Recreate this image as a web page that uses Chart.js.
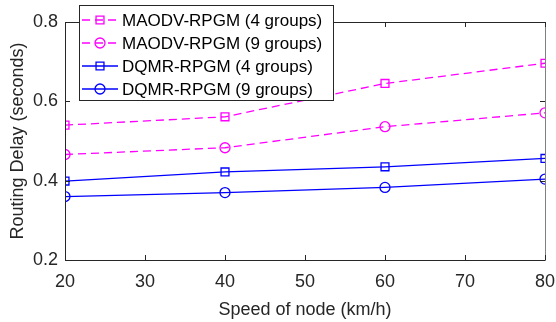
<!DOCTYPE html>
<html>
<head>
<meta charset="utf-8">
<script src="https://cdn.jsdelivr.net/npm/chart.js@4"></script>
<style>
  html, body { margin: 0; padding: 0; background: #fff; }
  #wrap { width: 556px; height: 322px; }
</style>
</head>
<body>
<div id="wrap"><canvas id="graf" width="556" height="322"></canvas></div>
<script>
const speeds = [20, 40, 60, 80];
const maodv4 = [0.540, 0.561, 0.645, 0.696];
const maodv9 = [0.466, 0.483, 0.536, 0.571];
const dqmr4 = [0.399, 0.422, 0.435, 0.456];
const dqmr9 = [0.360, 0.370, 0.383, 0.404];
const yTicks = [0.2, 0.4, 0.6, 0.8];
const xTicks = [20, 30, 40, 50, 60, 70, 80];

const FONT = "'Liberation Sans', Arial, sans-serif";
const AXIS = '#262626';

function tocke(vals) {
    return speeds.map((s, i) => ({ x: s, y: vals[i] }));
}

function serija(label, vals, color, dashed, shape) {
    return {
        label: label,
        data: tocke(vals),
        borderColor: color,
        backgroundColor: 'rgba(0,0,0,0)',
        borderWidth: 1.3,
        borderDash: dashed ? [8, 5] : [],
        pointStyle: shape,
        pointRadius: shape === 'rect' ? 5.6 : 5,
        pointBorderWidth: 1.3,
        pointBorderColor: color,
        pointBackgroundColor: 'rgba(0,0,0,0)',
        tension: 0,
        fill: false
    };
}

// box, inward ticks and legend in the upper left
const okvir = {
    id: 'okvir',
    afterDraw(chart) {
        const ctx = chart.ctx;
        const a = chart.chartArea;
        const xs = chart.scales.x;
        const ys = chart.scales.y;
        ctx.save();
        ctx.lineWidth = 1;
        ctx.strokeStyle = AXIS;
        ctx.beginPath();
        ctx.moveTo(a.left + 0.5, a.top);
        ctx.lineTo(a.left + 0.5, a.bottom + 0.5);
        ctx.lineTo(a.right, a.bottom + 0.5);
        ctx.moveTo(a.left, a.top + 0.5);
        ctx.lineTo(a.right, a.top + 0.5);
        ctx.stroke();
        ctx.strokeStyle = '#808080';
        ctx.beginPath();
        ctx.moveTo(a.right + 0.5, a.top);
        ctx.lineTo(a.right + 0.5, a.bottom + 1);
        ctx.stroke();

        ctx.strokeStyle = AXIS;
        ctx.beginPath();
        xTicks.forEach(v => {
            const px = Math.round(xs.getPixelForValue(v)) + 0.5;
            ctx.moveTo(px, a.bottom);
            ctx.lineTo(px, a.bottom - 5);
            ctx.moveTo(px, a.top);
            ctx.lineTo(px, a.top + 5);
        });
        yTicks.forEach(v => {
            const py = Math.round(ys.getPixelForValue(v)) + 0.5;
            ctx.moveTo(a.left, py);
            ctx.lineTo(a.left + 5, py);
            ctx.moveTo(a.right, py);
            ctx.lineTo(a.right - 5, py);
        });
        ctx.stroke();

        // legend
        const lx = 79, ly = 5, lw = 254, lh = 95;
        ctx.fillStyle = '#fff';
        ctx.fillRect(lx, ly, lw, lh);
        ctx.strokeStyle = AXIS;
        ctx.strokeRect(lx + 0.5, ly + 0.5, lw, lh);
        ctx.font = '17px ' + FONT;
        ctx.textBaseline = 'middle';
        ctx.textAlign = 'left';
        chart.data.datasets.forEach((ds, i) => {
            const yy = 20 + i * 23;
            ctx.strokeStyle = ds.borderColor;
            ctx.lineWidth = ds.borderWidth;
            ctx.setLineDash(ds.borderDash);
            ctx.beginPath();
            ctx.moveTo(82, yy);
            ctx.lineTo(118, yy);
            ctx.stroke();
            ctx.setLineDash([]);
            ctx.fillStyle = 'rgba(0,0,0,0)';
            Chart.helpers.drawPoint(ctx, {
                pointStyle: ds.pointStyle,
                radius: ds.pointRadius,
                borderWidth: ds.pointBorderWidth,
                rotation: 0
            }, 100, yy);
            ctx.fillStyle = '#000';
            ctx.fillText(ds.label, 122, yy + 1);
        });
        ctx.restore();
    }
};

new Chart(document.getElementById('graf').getContext('2d'), {
    type: 'line',
    data: {
        datasets: [
            serija('MAODV-RPGM (4 groups)', maodv4, '#ff00ff', true, 'rect'),
            serija('MAODV-RPGM (9 groups)', maodv9, '#ff00ff', true, 'circle'),
            serija('DQMR-RPGM (4 groups)', dqmr4, '#0000ff', false, 'rect'),
            serija('DQMR-RPGM (9 groups)', dqmr9, '#0000ff', false, 'circle')
        ]
    },
    options: {
        responsive: false,
        animation: false,
        parsing: false,
        layout: { padding: { top: 22, right: 11, left: 0, bottom: 0 } },
        plugins: {
            legend: { display: false },
            tooltip: { enabled: false }
        },
        scales: {
            x: {
                type: 'linear',
                min: 20,
                max: 80,
                afterFit(s) {
                    s.height = 62;
                    s.paddingLeft = 0;
                    s.paddingRight = 0;
                },
                afterBuildTicks(s) { s.ticks = xTicks.map(v => ({ value: v })); },
                grid: { display: false, drawTicks: false },
                border: { display: false },
                ticks: {
                    color: '#262626',
                    font: { family: FONT, size: 18 },
                    padding: 11,
                    maxRotation: 0,
                    autoSkip: false,
                    callback: v => String(v)
                },
                title: {
                    display: true,
                    text: 'Speed of node (km/h)',
                    color: '#262626',
                    font: { family: FONT, size: 18 },
                    padding: { top: 0, bottom: 1 }
                }
            },
            y: {
                type: 'linear',
                min: 0.2,
                max: 0.8,
                afterFit(s) {
                    s.width = 65;
                    s.paddingTop = 0;
                    s.paddingBottom = 0;
                },
                afterBuildTicks(s) { s.ticks = yTicks.map(v => ({ value: v })); },
                grid: { display: false, drawTicks: false },
                border: { display: false },
                ticks: {
                    color: '#262626',
                    font: { family: FONT, size: 18 },
                    padding: 7,
                    autoSkip: false,
                    callback: v => v.toFixed(1)
                },
                title: {
                    display: true,
                    text: 'Routing Delay (seconds)',
                    color: '#262626',
                    font: { family: FONT, size: 18 },
                    padding: { top: 7, bottom: 0 }
                }
            }
        }
    },
    plugins: [okvir]
});
</script>
</body>
</html>
